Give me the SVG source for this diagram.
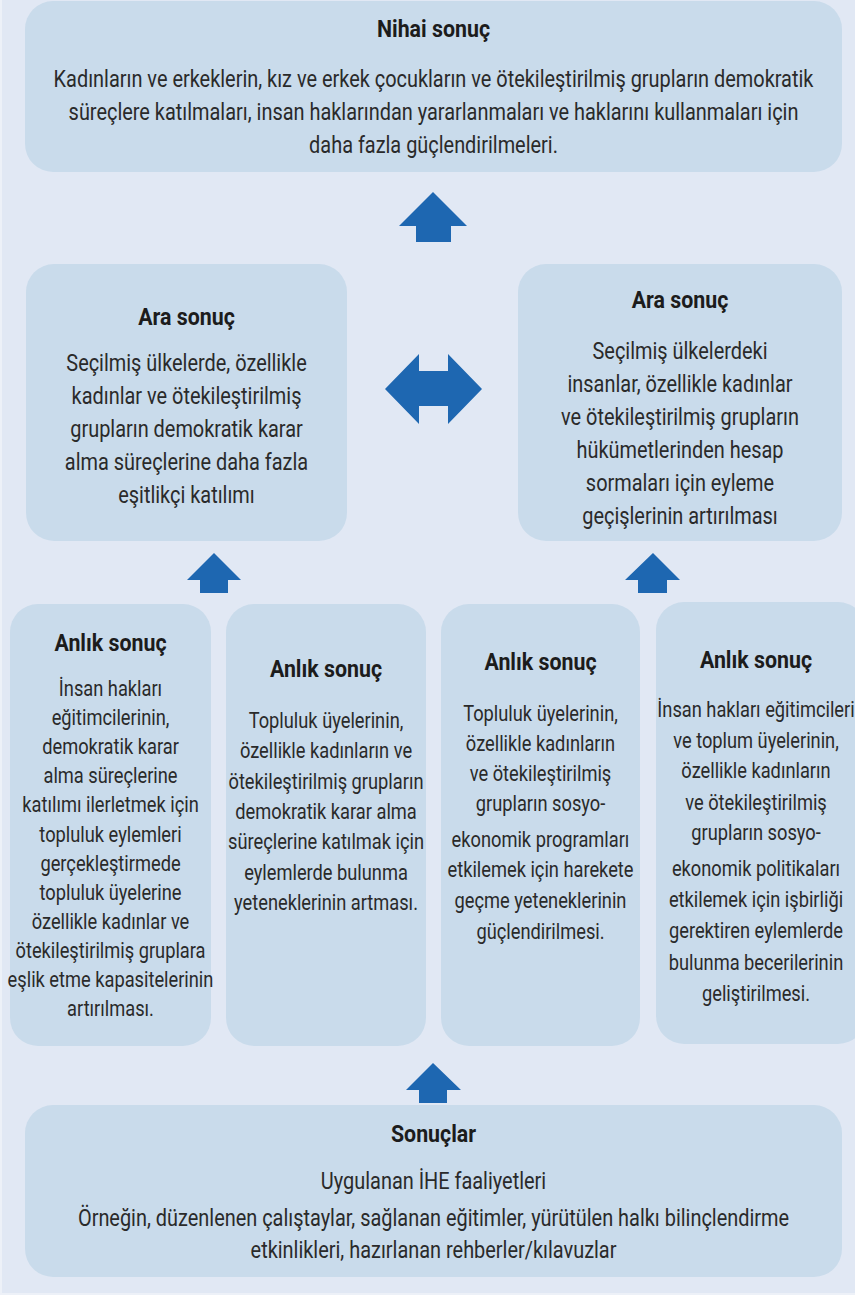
<svg xmlns="http://www.w3.org/2000/svg" width="855" height="1295" viewBox="0 0 855 1295">
<style>
.page{fill:#E1E8F4}
.edge{fill:#EDF1F8}
.box{fill:#C9DBEB}
.arrow{fill:#1E67B1}
text{font-family:Roboto,"Noto Sans",sans-serif;fill:#2a2a2a;text-anchor:middle}
.h{font-weight:bold;font-size:24px;fill:#1c1c1c}
.b{font-size:24px}
.s{font-size:22px}
</style>
<rect class="edge" x="0" y="0" width="855" height="1295"/>
<rect class="page" x="2" y="0" width="853" height="1293"/>

<g id="connectors">
  <polygon class="arrow" points="433,192 467,226 451,226 451,242 416,242 416,226 399,226"/>
  <polygon class="arrow" points="385,389 419,354 419,371 448,371 448,354 482,389 448,424 448,406 419,406 419,424"/>
  <polygon class="arrow" points="214,553 241,580 228,580 228,593 200,593 200,580 187,580"/>
  <polygon class="arrow" points="653,553 680,580 667,580 667,593 638,593 638,580 625,580"/>
  <polygon class="arrow" points="433,1063 461,1090 447,1090 447,1103 419,1103 419,1090 406,1090"/>
</g>

<g id="nihai">
  <rect class="box" x="25" y="1" width="817" height="171" rx="28"/>
  <text class="h" transform="translate(433.5,37) scale(0.89,1)">Nihai sonuç</text>
  <g transform="translate(433.5,0) scale(0.83,1)">
    <text class="b" y="87">Kadınların ve erkeklerin, kız ve erkek çocukların ve ötekileştirilmiş grupların demokratik</text>
    <text class="b" y="120">süreçlere katılmaları, insan haklarından yararlanmaları ve haklarını kullanmaları için</text>
    <text class="b" y="153">daha fazla güçlendirilmeleri.</text>
  </g>
</g>

<g id="ara1">
  <rect class="box" x="26" y="264" width="321" height="277" rx="28"/>
  <text class="h" transform="translate(186.5,325) scale(0.89,1)">Ara sonuç</text>
  <g transform="translate(186.5,0) scale(0.83,1)">
    <text class="b" y="371">Seçilmiş ülkelerde, özellikle</text>
    <text class="b" y="404">kadınlar ve ötekileştirilmiş</text>
    <text class="b" y="437">grupların demokratik karar</text>
    <text class="b" y="470">alma süreçlerine daha fazla</text>
    <text class="b" y="503">eşitlikçi katılımı</text>
  </g>
</g>

<g id="ara2">
  <rect class="box" x="518" y="264" width="324" height="277" rx="28"/>
  <text class="h" transform="translate(680,308) scale(0.89,1)">Ara sonuç</text>
  <g transform="translate(680,0) scale(0.83,1)">
    <text class="b" y="359">Seçilmiş ülkelerdeki</text>
    <text class="b" y="392">insanlar, özellikle kadınlar</text>
    <text class="b" y="425">ve ötekileştirilmiş grupların</text>
    <text class="b" y="458">hükümetlerinden hesap</text>
    <text class="b" y="491">sormaları için eyleme</text>
    <text class="b" y="524">geçişlerinin artırılması</text>
  </g>
</g>

<g id="anlik1">
  <rect class="box" x="10" y="604" width="201" height="442" rx="28"/>
  <text class="h" transform="translate(110.5,651) scale(0.89,1)">Anlık sonuç</text>
  <g transform="translate(110.5,0) scale(0.83,1)">
    <text class="s" y="696">İnsan hakları</text>
    <text class="s" y="725">eğitimcilerinin,</text>
    <text class="s" y="754">demokratik karar</text>
    <text class="s" y="783">alma süreçlerine</text>
    <text class="s" y="812">katılımı ilerletmek için</text>
    <text class="s" y="842">topluluk eylemleri</text>
    <text class="s" y="871">gerçekleştirmede</text>
    <text class="s" y="900">topluluk üyelerine</text>
    <text class="s" y="929">özellikle kadınlar ve</text>
    <text class="s" y="958">ötekileştirilmiş gruplara</text>
    <text class="s" y="987">eşlik etme kapasitelerinin</text>
    <text class="s" y="1016">artırılması.</text>
  </g>
</g>

<g id="anlik2">
  <rect class="box" x="226" y="604" width="200" height="442" rx="28"/>
  <text class="h" transform="translate(326,677) scale(0.89,1)">Anlık sonuç</text>
  <g transform="translate(326,0) scale(0.83,1)">
    <text class="s" y="728">Topluluk üyelerinin,</text>
    <text class="s" y="758">özellikle kadınların ve</text>
    <text class="s" y="789">ötekileştirilmiş grupların</text>
    <text class="s" y="819">demokratik karar alma</text>
    <text class="s" y="849">süreçlerine katılmak için</text>
    <text class="s" y="880">eylemlerde bulunma</text>
    <text class="s" y="910">yeteneklerinin artması.</text>
  </g>
</g>

<g id="anlik3">
  <rect class="box" x="441" y="604" width="199" height="442" rx="28"/>
  <text class="h" transform="translate(540.5,670) scale(0.89,1)">Anlık sonuç</text>
  <g transform="translate(540.5,0) scale(0.83,1)">
    <text class="s" y="721">Topluluk üyelerinin,</text>
    <text class="s" y="751">özellikle kadınların</text>
    <text class="s" y="781">ve ötekileştirilmiş</text>
    <text class="s" y="811">grupların sosyo-</text>
    <text class="s" y="847">ekonomik programları</text>
    <text class="s" y="877">etkilemek için harekete</text>
    <text class="s" y="908">geçme yeteneklerinin</text>
    <text class="s" y="939">güçlendirilmesi.</text>
  </g>
</g>

<g id="anlik4">
  <rect class="box" x="656" y="602" width="210" height="442" rx="28"/>
  <text class="h" transform="translate(756,668) scale(0.89,1)">Anlık sonuç</text>
  <g transform="translate(756,0) scale(0.83,1)">
    <text class="s" y="717">İnsan hakları eğitimcileri</text>
    <text class="s" y="748">ve toplum üyelerinin,</text>
    <text class="s" y="778">özellikle kadınların</text>
    <text class="s" y="810">ve ötekileştirilmiş</text>
    <text class="s" y="840">grupların sosyo-</text>
    <text class="s" y="876">ekonomik politikaları</text>
    <text class="s" y="907">etkilemek için işbirliği</text>
    <text class="s" y="938">gerektiren eylemlerde</text>
    <text class="s" y="970">bulunma becerilerinin</text>
    <text class="s" y="1001">geliştirilmesi.</text>
  </g>
</g>

<g id="sonuclar">
  <rect class="box" x="25" y="1105" width="817" height="172" rx="28"/>
  <text class="h" transform="translate(433.5,1142) scale(0.89,1)">Sonuçlar</text>
  <g transform="translate(433.5,0) scale(0.83,1)">
    <text class="b" y="1189">Uygulanan İHE faaliyetleri</text>
    <text class="b" y="1226">Örneğin, düzenlenen çalıştaylar, sağlanan eğitimler, yürütülen halkı bilinçlendirme</text>
    <text class="b" y="1258">etkinlikleri, hazırlanan rehberler/kılavuzlar</text>
  </g>
</g>
</svg>
